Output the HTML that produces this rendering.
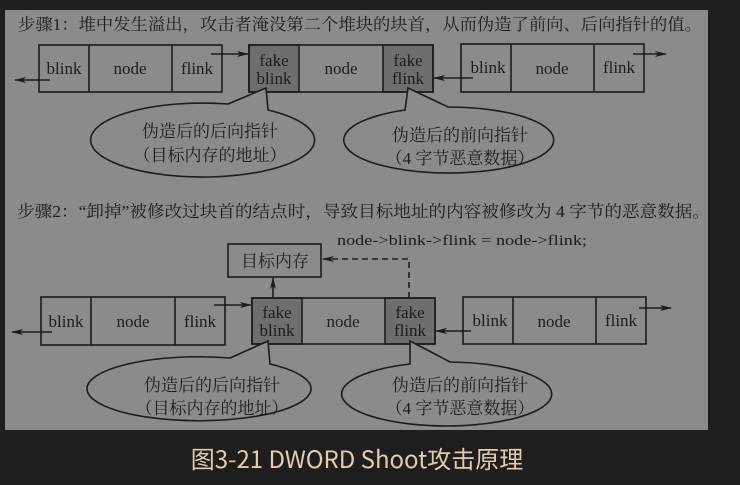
<!DOCTYPE html>
<html><head><meta charset="utf-8"><style>
html,body{margin:0;padding:0;background:#1e1e1e;}
svg{display:block;}
.c{font-family:"Liberation Serif","Noto Serif CJK SC",serif;fill:#1c1c1c;}
</style></head><body>
<svg width="740" height="485" viewBox="0 0 740 485" xmlns="http://www.w3.org/2000/svg">
<defs><marker id="a" markerWidth="12" markerHeight="8" refX="11" refY="4" orient="auto" markerUnits="userSpaceOnUse"><path d="M0,1 L12,4 L0,7 L3,4 z" fill="#1c1c1c"/></marker></defs>
<rect x="0" y="0" width="740" height="485" fill="#1e1e1e"/>
<rect x="5" y="10" width="703" height="420" fill="#8b8b8b"/>
<g class="c" font-size="16.5">
<text x="18" y="30" textLength="684" lengthAdjust="spacingAndGlyphs">步骤1：堆中发生溢出，攻击者淹没第二个堆块的块首，从而伪造了前向、后向指针的值。</text>
<text x="17" y="217" textLength="693" lengthAdjust="spacingAndGlyphs">步骤2：“卸掉”被修改过块首的结点时，导致目标地址的内容被修改为 4 字节的恶意数据。</text>
<text x="337" y="245" font-size="15" textLength="250" lengthAdjust="spacingAndGlyphs">node-&gt;blink-&gt;flink = node-&gt;flink;</text>
</g>
<g stroke="#1c1c1c" stroke-width="1.6" fill="none">
<rect x="39" y="45" width="183" height="47"/><line x1="89" y1="45" x2="89" y2="92"/><line x1="172" y1="45" x2="172" y2="92"/>
<rect x="249" y="45" width="50" height="47" fill="#6e6e6e"/><rect x="383" y="45" width="50" height="47" fill="#6e6e6e"/>
<rect x="249" y="45" width="184" height="47"/>
<rect x="461" y="44" width="183" height="48"/><line x1="511" y1="44" x2="511" y2="92"/><line x1="594" y1="44" x2="594" y2="92"/>
<line x1="50" y1="80" x2="15" y2="80" marker-end="url(#a)"/>
<line x1="211" y1="54" x2="248" y2="54" marker-end="url(#a)"/>
<line x1="473" y1="78" x2="434" y2="78" marker-end="url(#a)"/>
<line x1="633" y1="54" x2="666" y2="54" marker-end="url(#a)"/>
<rect x="41" y="297" width="184" height="48"/><line x1="91" y1="297" x2="91" y2="345"/><line x1="175" y1="297" x2="175" y2="345"/>
<rect x="252" y="298" width="50" height="46" fill="#6e6e6e"/><rect x="385" y="298" width="50" height="46" fill="#6e6e6e"/>
<rect x="252" y="298" width="183" height="46"/>
<rect x="463" y="297" width="183" height="47"/><line x1="513" y1="297" x2="513" y2="344"/><line x1="596" y1="297" x2="596" y2="344"/>
<line x1="52" y1="332" x2="12" y2="332" marker-end="url(#a)"/>
<line x1="214" y1="305" x2="251" y2="305" marker-end="url(#a)"/>
<line x1="471" y1="331" x2="436" y2="331" marker-end="url(#a)"/>
<line x1="639" y1="308" x2="671" y2="308" marker-end="url(#a)"/>
<rect x="228" y="244" width="93" height="33"/>
<line x1="273" y1="298" x2="273" y2="278" marker-end="url(#a)"/>
<polyline points="409,298 409,259 323,259" stroke-dasharray="6,4" marker-end="url(#a)"/>
<path d="M228,104 A112,37 0 1 0 268,110 L266,88 Z" fill="#8b8b8b"/>
<path d="M448,107 A105,33 0 1 1 405,110 L408,88 Z" fill="#8b8b8b"/>
<path d="M230,358 A112,32 0 1 0 270,364 L268,341 Z" fill="#8b8b8b"/>
<path d="M450,362 A105,32 0 1 1 410,364 L410,341 Z" fill="#8b8b8b"/>
</g>
<g class="c" font-size="17" text-anchor="middle">
<text x="64" y="74">blink</text><text x="130" y="74">node</text><text x="197" y="74">flink</text>
<text x="274" y="66">fake</text><text x="274" y="84">blink</text><text x="341" y="74">node</text>
<text x="408" y="66">fake</text><text x="408" y="84">flink</text>
<text x="488" y="73">blink</text><text x="552" y="74">node</text><text x="619" y="73">flink</text>
<text x="66" y="327">blink</text><text x="133" y="327">node</text><text x="200" y="327">flink</text>
<text x="277" y="318">fake</text><text x="277" y="336">blink</text><text x="343" y="327">node</text>
<text x="410" y="318">fake</text><text x="410" y="336">flink</text>
<text x="490" y="326">blink</text><text x="554" y="327">node</text><text x="621" y="326">flink</text>
<text x="275" y="267">目标内存</text>
<text x="210" y="137">伪造后的后向指针</text><text x="210" y="161">（目标内存的地址）</text>
<text x="460" y="141">伪造后的前向指针</text><text x="460" y="164">（4 字节恶意数据）</text>
<text x="212" y="391">伪造后的后向指针</text><text x="212" y="414">（目标内存的地址）</text>
<text x="460" y="391">伪造后的前向指针</text><text x="460" y="414">（4 字节恶意数据）</text>
</g>
<text x="357" y="468" text-anchor="middle" font-family="'Noto Sans CJK SC','Liberation Sans',sans-serif" font-size="24" fill="#e3cdb0">图3-21 DWORD Shoot攻击原理</text>
</svg>
</body></html>
